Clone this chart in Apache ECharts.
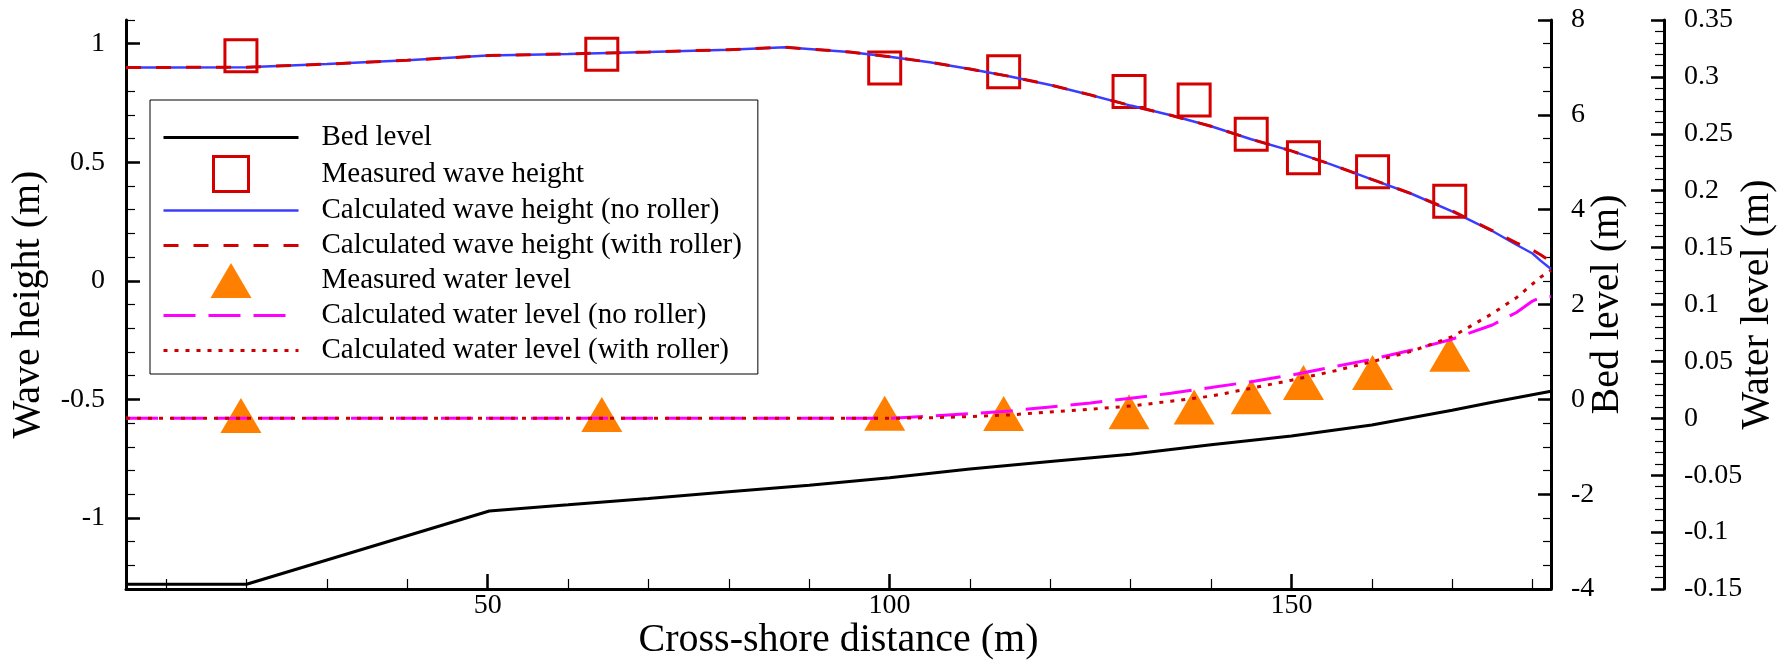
<!DOCTYPE html>
<html>
<head>
<meta charset="utf-8">
<script src="https://cdn.jsdelivr.net/npm/echarts/dist/echarts.min.js"></script>
<style>
html,body{margin:0;padding:0;background:#fff;}
#chart{width:1785px;height:662px;}
</style>
</head>
<body>
<div id="chart"></div>
<script>
// ---- data ----
const bedX = [5, 20, 50.2, 60, 70, 80, 90, 100, 110, 120, 130, 140, 150, 160, 170, 175, 182.3];
const bedLevel = [-3.9, -3.9, -2.355, -2.225, -2.09, -1.95, -1.81, -1.653, -1.47, -1.31, -1.159, -0.96, -0.774, -0.541, -0.23, -0.06, 0.17];

const calcX = [5, 10, 20, 30, 40, 50, 60, 70, 80, 87, 95, 100, 105, 110, 115, 120, 125, 130, 135, 140, 145, 150, 155, 160, 165, 170, 175, 178, 180, 181, 182.3];
const waveNoRoller = [0.900, 0.900, 0.901, 0.914, 0.930, 0.950, 0.957, 0.965, 0.975, 0.985, 0.965, 0.945, 0.922, 0.893, 0.862, 0.826, 0.784, 0.739, 0.698, 0.652, 0.597, 0.548, 0.490, 0.428, 0.366, 0.293, 0.210, 0.152, 0.115, 0.085, 0.050];
const waveWithRoller = [0.900, 0.900, 0.901, 0.914, 0.930, 0.950, 0.957, 0.965, 0.975, 0.985, 0.965, 0.945, 0.922, 0.893, 0.862, 0.826, 0.784, 0.739, 0.698, 0.652, 0.597, 0.548, 0.490, 0.428, 0.367, 0.295, 0.212, 0.160, 0.130, 0.110, 0.080];
const waterNoRoller = [0, 0, 0, 0, 0, 0, 0, 0, 0, 0, 0, 0, 0.002, 0.004, 0.0065, 0.010, 0.0135, 0.0176, 0.022, 0.027, 0.0322, 0.038, 0.045, 0.0518, 0.060, 0.0695, 0.082, 0.093, 0.103, 0.106, 0.107];
const waterWithRoller = [0, 0, 0, 0, 0, 0, 0, 0, 0, 0, 0, 0, 0.0005, 0.0015, 0.003, 0.0055, 0.008, 0.0108, 0.015, 0.0195, 0.0264, 0.0335, 0.041, 0.0497, 0.059, 0.0717, 0.092, 0.106, 0.118, 0.124, 0.130];

const measX = [19.3, 64.2, 99.4, 114.2, 129.8, 137.9, 145, 151.5, 160.1, 169.7];
const measWave = [0.949, 0.956, 0.898, 0.882, 0.798, 0.763, 0.618, 0.519, 0.460, 0.335];
const measWater = [0.0025, 0.0034, 0.0044, 0.0042, 0.0057, 0.010, 0.0189, 0.0315, 0.0402, 0.0563];

const xTickLabels = ['50', '100', '150'];
const waveTickLabels = ['-1', '-0.5', '0', '0.5', '1'];
const bedTickLabels = ['-4', '-2', '0', '2', '4', '6', '8'];
const waterTickLabels = ['-0.15', '-0.1', '-0.05', '0', '0.05', '0.1', '0.15', '0.2', '0.25', '0.3', '0.35'];

const seriesNames = [
  'Bed level',
  'Measured wave height',
  'Calculated wave height (no roller)',
  'Calculated wave height (with roller)',
  'Measured water level',
  'Calculated water level (no roller)',
  'Calculated water level (with roller)'
];

// ---- helpers ----
const FONT = 'Liberation Serif';
function zip(xs, ys) { return xs.map((x, i) => [x, ys[i]]); }
function steps(min, max, step) {
  const out = [];
  const n = Math.round((max - min) / step);
  for (let i = 0; i <= n; i++) out.push(Math.round((min + i * step) * 10000) / 10000);
  return out;
}
const fmt = v => String(Math.round(v * 1000) / 1000);

const labelStyle = { fontFamily: FONT, fontSize: 28, color: '#000' };
const nameStyle = { fontFamily: FONT, fontSize: 40, color: '#000' };
const axisLineStyle = { show: true, onZero: false, lineStyle: { color: '#000', width: 3 } };

function majorAxis(extra) {
  return Object.assign({
    type: 'value', splitLine: { show: false }, axisLine: axisLineStyle,
    nameLocation: 'middle', nameTextStyle: nameStyle, nameMoveOverlap: false
  }, extra);
}
function minorAxis(extra, vals, len, width) {
  return Object.assign({
    type: 'value', splitLine: { show: false }, axisLine: { show: false, onZero: false },
    axisLabel: { show: false },
    axisTick: { show: true, inside: true, length: len, customValues: vals, lineStyle: { color: '#000', width: width } }
  }, extra);
}

const chart = echarts.init(document.getElementById('chart'));

const lineLegendItem = name => ({ name: name, itemStyle: { opacity: 0 } });

const option = {
  animation: false,
  backgroundColor: '#fff',
  textStyle: { fontFamily: FONT },
  grid: { left: 126, right: 234, top: 20, bottom: 73, containLabel: false, outerBoundsMode: 'none' },
  legend: {
    orient: 'vertical', left: 150, top: 100,
    padding: [20, 16, 6, 12],
    itemWidth: 135, itemHeight: 35, itemGap: 0,
    borderColor: '#000', borderWidth: 1, backgroundColor: '#fff',
    textStyle: { fontFamily: FONT, fontSize: 29, lineHeight: 35, color: '#000', padding: [0, 0, 0, 18] },
    itemStyle: { borderWidth: 'inherit' },
    lineStyle: { width: 'inherit' },
    data: [
      lineLegendItem(seriesNames[0]),
      { name: seriesNames[1], icon: 'path://M0,0L1,0L1,1L0,1Z' },
      lineLegendItem(seriesNames[2]),
      lineLegendItem(seriesNames[3]),
      { name: seriesNames[4], icon: 'path://M20.5,0L41,35L0,35Z' },
      lineLegendItem(seriesNames[5]),
      lineLegendItem(seriesNames[6])
    ]
  },
  xAxis: [
    majorAxis({
      min: 5, max: 182.3, position: 'bottom',
      name: 'Cross-shore distance (m)', nameGap: 31,
      axisTick: { show: true, inside: true, length: 15, customValues: xTickLabels.map(Number), lineStyle: { color: '#000', width: 2.5 } },
      axisLabel: { show: true, margin: 3, customValues: xTickLabels.map(Number), formatter: fmt, ...labelStyle }
    }),
    minorAxis({ min: 5, max: 182.3, position: 'bottom' }, steps(10, 180, 10), 10, 1.2)
  ],
  yAxis: [
    majorAxis({
      min: -1.3, max: 1.1, position: 'left',
      name: 'Wave height (m)', nameGap: 78,
      axisTick: { show: true, inside: true, length: 14, customValues: waveTickLabels.map(Number), lineStyle: { color: '#000', width: 2.5 } },
      axisLabel: { show: true, margin: 21, customValues: waveTickLabels.map(Number), formatter: fmt, ...labelStyle }
    }),
    minorAxis({ min: -1.3, max: 1.1, position: 'left' }, steps(-1.3, 1.1, 0.1), 9, 1.2),
    majorAxis({
      min: -4, max: 8, position: 'right',
      name: 'Bed level (m)', nameGap: 36,
      axisTick: { show: true, inside: true, length: 13, customValues: bedTickLabels.map(Number), lineStyle: { color: '#000', width: 2.5 } },
      axisLabel: { show: true, margin: 20, customValues: bedTickLabels.map(Number), formatter: fmt, ...labelStyle }
    }),
    minorAxis({ min: -4, max: 8, position: 'right' }, steps(-4, 8, 0.5), 8, 1.2),
    majorAxis({
      min: -0.15, max: 0.35, position: 'right', offset: 113,
      name: 'Water level (m)', nameGap: 73,
      axisTick: { show: true, inside: true, length: 13, customValues: waterTickLabels.map(Number), lineStyle: { color: '#000', width: 2.5 } },
      axisLabel: { show: true, margin: 20, customValues: waterTickLabels.map(Number), formatter: fmt, ...labelStyle }
    }),
    minorAxis({ min: -0.15, max: 0.35, position: 'right', offset: 113 }, steps(-0.15, 0.35, 0.01), 9, 1.2)
  ],
  series: [
    {
      name: seriesNames[0], type: 'line', xAxisIndex: 0, yAxisIndex: 2,
      data: zip(bedX, bedLevel), symbol: 'none',
      lineStyle: { color: '#000', width: 3 }, itemStyle: { color: '#000' }
    },
    {
      name: seriesNames[4], type: 'scatter', xAxisIndex: 0, yAxisIndex: 4,
      data: zip(measX, measWater), symbol: 'triangle', symbolSize: [41, 35],
      itemStyle: { color: '#ff8000', opacity: 1 }
    },
    {
      name: seriesNames[2], type: 'line', xAxisIndex: 0, yAxisIndex: 0,
      data: zip(calcX, waveNoRoller), symbol: 'none',
      lineStyle: { color: '#3c3cff', width: 2.5 }, itemStyle: { color: '#3c3cff' }
    },
    {
      name: seriesNames[3], type: 'line', xAxisIndex: 0, yAxisIndex: 0,
      data: zip(calcX, waveWithRoller), symbol: 'none',
      lineStyle: { color: '#d40000', width: 3, type: [15, 15] }, itemStyle: { color: '#d40000' }
    },
    {
      name: seriesNames[5], type: 'line', xAxisIndex: 0, yAxisIndex: 4,
      data: zip(calcX, waterNoRoller), symbol: 'none',
      lineStyle: { color: '#ff00ff', width: 3, type: [32, 13] }, itemStyle: { color: '#ff00ff' }
    },
    {
      name: seriesNames[6], type: 'line', xAxisIndex: 0, yAxisIndex: 4,
      data: zip(calcX, waterWithRoller), symbol: 'none',
      lineStyle: { color: '#cc0000', width: 3, type: [4, 7] }, itemStyle: { color: '#cc0000' }
    },
    {
      name: seriesNames[1], type: 'scatter', xAxisIndex: 0, yAxisIndex: 0,
      data: zip(measX, measWave), symbol: 'rect', symbolSize: 32,
      itemStyle: { color: 'rgba(0,0,0,0)', borderColor: '#d40000', borderWidth: 3, opacity: 1 }
    }
  ]
};
chart.setOption(option);
</script>
</body>
</html>
